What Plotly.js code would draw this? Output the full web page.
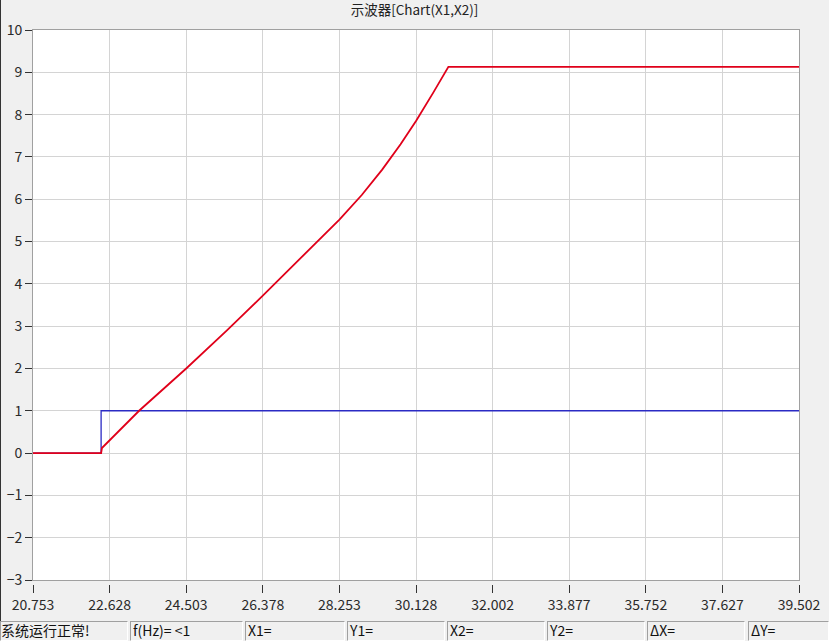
<!DOCTYPE html>
<html>
<head>
<meta charset="utf-8">
<script src="https://cdn.plot.ly/plotly-3.0.1.min.js"></script>
<style>
  html, body { margin: 0; padding: 0; background: #f0f0f0; }
  #wrap { position: relative; width: 829px; height: 641px; overflow: hidden; }
  #chart { position: absolute; left: 0; top: 0; width: 829px; height: 641px; }
  #edge { position: absolute; left: 0; top: 0; width: 1px; height: 621px; background: #333; }
  .cell { position: absolute; top: 621px; height: 20px; box-sizing: border-box;
          border-top: 1px solid #a0a0a0; border-left: 1px solid #a0a0a0;
          border-bottom: 1px solid #ffffff; border-right: 1px solid #ffffff;
          background: #f0f0f0; font-family: "Noto Sans CJK SC", "Liberation Sans", sans-serif;
          font-size: 14px; line-height: 17px; color: #111; padding-left: 2px; white-space: nowrap; }
</style>
</head>
<body>
<div id="wrap">
  <div id="chart"></div>
  <div id="edge"></div>
  <div id="status"></div>
</div>
<script>
// ---- data ----
const xTickVals = [20.753, 22.628, 24.503, 26.378, 28.253, 30.128, 32.002, 33.877, 35.752, 37.627, 39.502];
const xTickText = ["20.753", "22.628", "24.503", "26.378", "28.253", "30.128", "32.002", "33.877", "35.752", "37.627", "39.502"];
const yTickVals = [-3, -2, -1, 0, 1, 2, 3, 4, 5, 6, 7, 8, 9, 10];

// X1 (blue step input)
const x1X = [20.753, 22.42, 22.42, 39.502];
const x1Y = [0, 0, 1, 1];

// X2 (red response)
const x2X = [20.753, 22.42, 22.44, 23.35, 24.503, 25.5, 26.378, 27.3, 28.253, 28.8, 29.3, 29.75, 30.128, 30.55, 30.92, 39.502];
const x2Y = [0, 0, 0.12, 1.0, 2.0, 2.9, 3.72, 4.6, 5.52, 6.1, 6.7, 7.3, 7.85, 8.52, 9.13, 9.13];

const statusLabels = ["系统运行正常!", "f(Hz)= <1", "X1=", "Y1=", "X2=", "Y2=", "ΔX=", "ΔY="];

// ---- status bar ----
const cellLeft = [0, 130, 245, 347, 447, 547, 647, 748];
const cellRight = [128, 243, 345, 445, 545, 645, 745, 829];
const st = document.getElementById('status');
statusLabels.forEach((t, i) => {
  const d = document.createElement('div');
  d.className = 'cell';
  d.style.left = cellLeft[i] + 'px';
  d.style.width = (cellRight[i] - cellLeft[i]) + 'px';
  if (i === 0) d.style.paddingLeft = '0px';
  d.textContent = t;
  st.appendChild(d);
});

// ---- chart ----
const font = '"Noto Sans CJK SC", "Liberation Sans", sans-serif';
const traces = [
  { x: x1X, y: x1Y, type: 'scatter', mode: 'lines', name: 'X1',
    line: { color: '#2b2bc4', width: 1.3 }, hoverinfo: 'skip' },
  { x: x2X, y: x2Y, type: 'scatter', mode: 'lines', name: 'X2',
    line: { color: '#e0001a', width: 1.8 }, hoverinfo: 'skip' }
];

const axisCommon = {
  showgrid: true, gridcolor: '#d4d4d4', gridwidth: 1,
  showline: true, linecolor: '#a0a0a0', linewidth: 1, mirror: true,
  zeroline: false, ticks: 'outside', tickcolor: '#333', tickwidth: 1,
  tickfont: { family: font, size: 14, color: '#2a2a2a' }, fixedrange: true
};

const layout = {
  width: 829, height: 641,
  margin: { l: 33, r: 30, t: 30, b: 61, pad: 0 },
  paper_bgcolor: '#f0f0f0', plot_bgcolor: '#ffffff',
  showlegend: false,
  title: { text: '示波器[Chart(X1,X2)]', x: 0.5, xanchor: 'center',
           y: 1 - 10 / 641, yanchor: 'middle',
           font: { family: font, size: 13.5, color: '#222' } },
  xaxis: Object.assign({}, axisCommon, {
    range: [20.753, 39.502], tickmode: 'array', tickvals: xTickVals, ticktext: xTickText,
    ticklen: 12
  }),
  yaxis: Object.assign({}, axisCommon, {
    range: [-3, 10], tickmode: 'array', tickvals: yTickVals, ticklen: 7
  }),
  shapes: [{
    type: 'rect', xref: 'paper', x0: -0.01, x1: 1.01,
    yref: 'paper', ysizemode: 'pixel', yanchor: 0, y0: -1, y1: -5,
    fillcolor: '#f0f0f0', line: { width: 0 }, layer: 'above'
  }]
};

Plotly.newPlot('chart', traces, layout, { staticPlot: true, displayModeBar: false });
</script>
</body>
</html>
